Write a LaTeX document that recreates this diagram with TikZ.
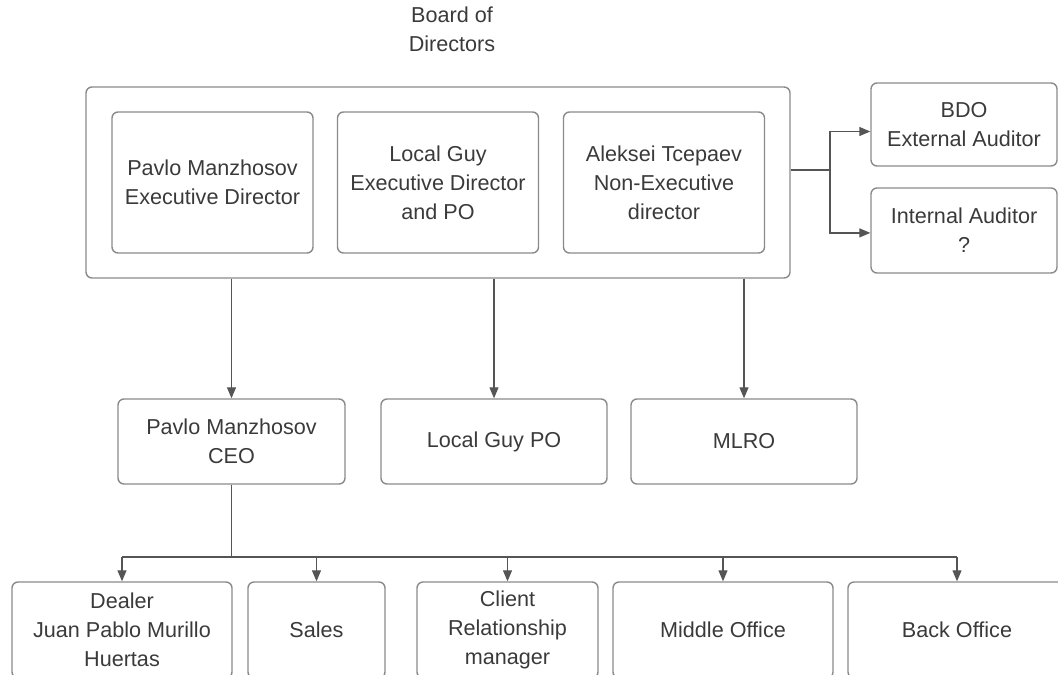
\documentclass[tikz,border=0pt]{standalone}
\usepackage{fontspec}
\setmainfont{Liberation Sans}
\usetikzlibrary{arrows.meta}
\definecolor{boxgray}{HTML}{8A8A8A}
\definecolor{linegray}{HTML}{555555}
\definecolor{txtgray}{HTML}{3A3A3A}
\begin{document}
\begin{tikzpicture}[x=0.5pt,y=-0.5pt,
  font=\fontsize{10.8}{14.5}\selectfont,
  box/.style={draw=boxgray,line width=0.7pt,rounded corners=3pt,align=center,
    text=txtgray,minimum height=#1},
  box/.default=42.5pt,
  link/.style={draw=linegray,line width=0.6pt},
  arr/.style={link,-{Triangle[width=4.5pt,length=5.5pt]}}]
\useasboundingbox (0,0) rectangle (1058,674);
\clip (0,0) rectangle (1058,674);

% board of directors
\node[text=txtgray,align=center] (title) at (452,29) {Board of\\Directors};
\node[box=95.5pt,minimum width=352pt] (board) at (438,182.5) {};
\node[box=70.5pt,minimum width=100.5pt] (dirA) at (212.5,182.5) {Pavlo Manzhosov\\Executive Director};
\node[box=70.5pt,minimum width=100.5pt] (dirB) at (438,182.5) {Local Guy\\Executive Director\\and PO};
\node[box=70.5pt,minimum width=100.5pt] (dirC) at (664,182.5) {Aleksei Tcepaev\\Non-Executive\\director};

% auditors
\node[box=41.5pt,minimum width=93pt] (ext) at (964,124.5) {BDO\\External Auditor};
\node[box=42.5pt,minimum width=93pt] (int) at (964,230.5) {Internal Auditor\\?};
\coordinate (split) at (830,170);
\draw[link] (board.east |- split) -- (split);
\draw[arr] (split) |- ([yshift=-3.5pt]ext.west);
\draw[arr] (split) |- ([yshift=-1.2pt]int.west);

% second row
\node[box,minimum width=113.5pt] (ceo) at (231.5,441.5) {Pavlo Manzhosov\\CEO};
\node[box,minimum width=113pt] (po) at (494,441.5) {Local Guy PO};
\node[box,minimum width=113pt] (mlro) at (744,441.5) {MLRO};
\foreach \r in {ceo,po,mlro}
  \draw[arr] (\r.north |- board.south) -- (\r.north);

% departments
\node[box=48pt,minimum width=110pt] (dealer) at (122,630) {Dealer\\Juan Pablo Murillo\\Huertas};
\node[box=48pt,minimum width=68.5pt] (sales) at (316.5,630) {Sales};
\node[box=48pt,minimum width=90.5pt] (crm) at (507.5,630) {Client\\Relationship\\manager};
\node[box=48pt,minimum width=110pt] (mid) at (723,630) {Middle Office};
\node[box=48pt,minimum width=109pt] (back) at (957,630) {Back Office};
\coordinate (bus) at (ceo.south |- 0,557);
\draw[link] (ceo.south) -- (bus);
\draw[link] (dealer.north |- bus) -- (back.north |- bus);
\foreach \d in {dealer,sales,crm,mid,back}
  \draw[arr] (\d.north |- bus) -- (\d.north);
\end{tikzpicture}
\end{document}
